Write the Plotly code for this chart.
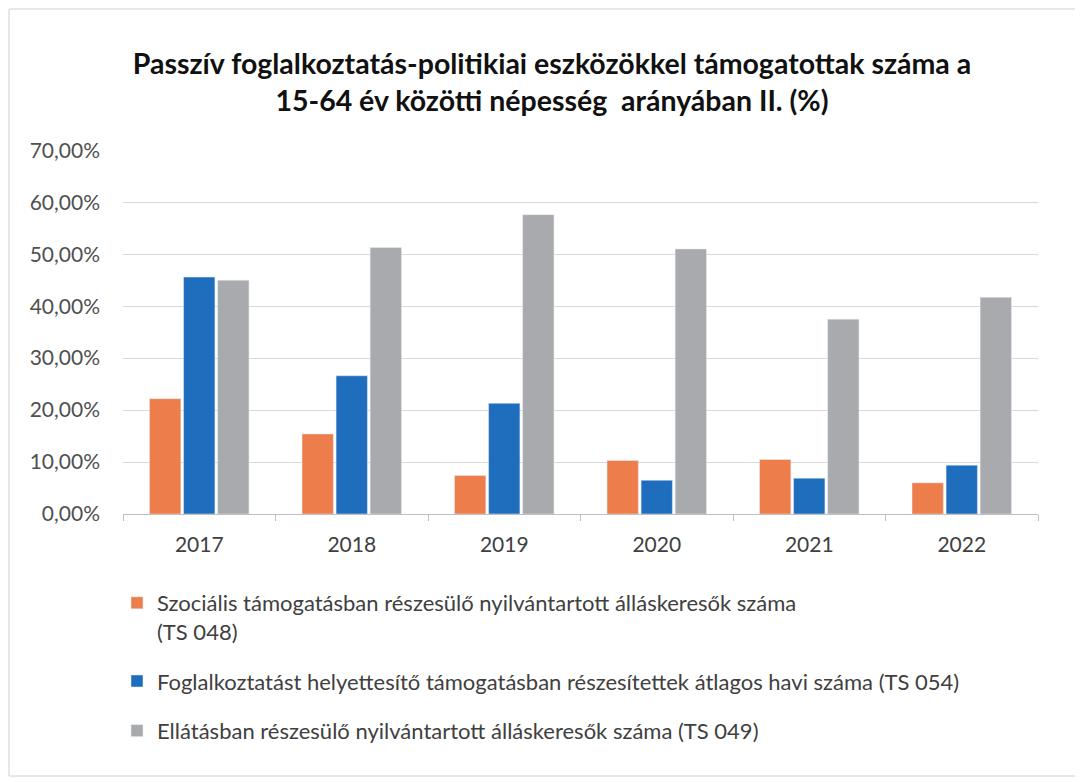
import plotly.graph_objects as go

years = ["2017", "2018", "2019", "2020", "2021", "2022"]
szocialis = [0.222, 0.154, 0.074, 0.103, 0.105, 0.060]
foglalkoztatast = [0.456, 0.266, 0.213, 0.065, 0.069, 0.094]
ellatas = [0.450, 0.513, 0.576, 0.510, 0.375, 0.417]

names = [
    "Szociális támogatásban részesülő nyilvántartott álláskeresők száma<br>(TS 048)",
    "Foglalkoztatást helyettesítő támogatásban részesítettek átlagos havi száma (TS 054)",
    "Ellátásban részesülő nyilvántartott álláskeresők száma (TS 049)",
]
title_text = ("<b>Passzív foglalkoztatás-politikiai eszközökkel támogatottak száma a<br>"
              "15-64 év közötti népesség  arányában II. (%)</b>")
colors = ["#EE7D4C", "#1F6DBD", "#A8AAAD"]
series = [szocialis, foglalkoztatast, ellatas]

fig = go.Figure()
for i, (n, c, v) in enumerate(zip(names, colors, series)):
    fig.add_trace(go.Bar(x=years, y=v, name=n, marker_color=c,
                         legendgroup=f"g{i}", hoverinfo="skip"))

# page body has an 8px margin; work in screenshot pixels and convert
OFF = 8
W, H = 1083 - OFF, 782 - OFF
L_px, R_px, T_px, B_px = 123, 1038, 150, 514  # plot area in screenshot pixels
l, t = L_px - OFF, T_px - OFF
r = W - (R_px - OFF)
b = H - (B_px - OFF)
pw = W - l - r
ph = H - t - b
FONT = "Lato, Open Sans, sans-serif"


def px_x(x):
    return (x - L_px) / pw


def px_y(y):
    return (B_px - y) / ph


fig.update_layout(
    width=W, height=H,
    margin=dict(l=l, r=r, t=t, b=b, autoexpand=False),
    paper_bgcolor="white", plot_bgcolor="white",
    separators=", ",
    barmode="group", bargap=0.33, bargroupgap=0.08,
    font=dict(family=FONT, color="#404040"),
    title=dict(
        text=title_text,
        x=px_x(552), xref="paper", xanchor="center", y=1 - 66 / H, yanchor="top",
        font=dict(size=28.5, color="#111111", family=FONT),
    ),
    xaxis=dict(showgrid=False, showline=True, linecolor="#BFBFBF", linewidth=1,
               tickfont=dict(size=21, color="#404040"),
               ticks="outside", tickson="boundaries", ticklen=6, tickcolor="#BFBFBF",
               ticklabelstandoff=12),
    yaxis=dict(range=[0, 0.7005], dtick=0.1, tickformat=".2%",
               gridcolor="#D9D9D9", gridwidth=1, zeroline=False,
               tickfont=dict(size=21, color="#505050"), ticklabelstandoff=22),
    showlegend=True,
    legend=dict(orientation="v", x=px_x(117), xanchor="left",
                y=px_y(582), yanchor="top", yref="paper",
                font=dict(size=22, color="#404040"), valign="top",
                tracegroupgap=18, itemwidth=30, bgcolor="rgba(0,0,0,0)"),
    shapes=[dict(type="rect", xref="paper", yref="paper",
                 x0=px_x(9), x1=px_x(1076),
                 y0=px_y(776), y1=px_y(9),
                 line=dict(color="#D0D0D0", width=1), layer="below")],
)

fig.write_html("out.html")
